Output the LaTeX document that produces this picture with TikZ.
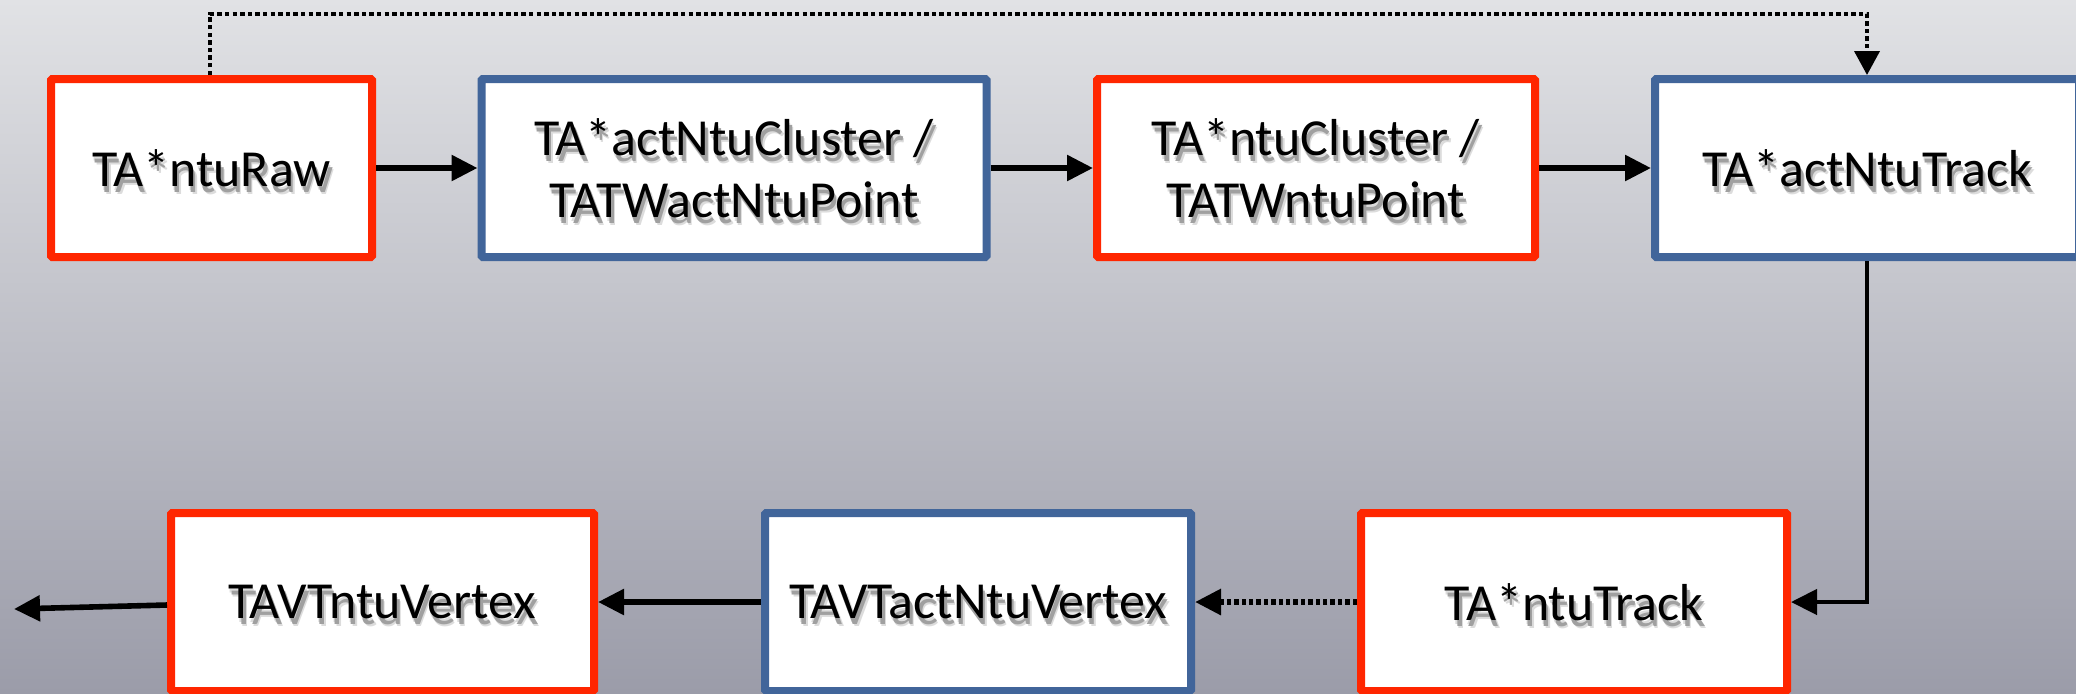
\documentclass[tikz,border=0pt]{standalone}
\usepackage{fontspec}
\setmainfont{Carlito}
\usetikzlibrary{arrows.meta}

\definecolor{bgtop}{HTML}{E1E2E5}
\definecolor{bgbottom}{HTML}{9B9CA9}
\definecolor{dataRed}{HTML}{FF2600}
\definecolor{actBlue}{HTML}{41659A}
\definecolor{shadeLight}{HTML}{DCDCDC}
\definecolor{shadeDark}{HTML}{A0A0A0}

\tikzset{
  basebox/.style={draw, line width=4pt, fill=white, inner sep=0pt,
    minimum height=89pt, rounded corners=0.6pt},
  databox/.style={basebox, draw=dataRed},
  actbox/.style={basebox, draw=actBlue},
  boxtext/.style={align=center, inner sep=0pt,
    font=\fontsize{26pt}{31pt}\selectfont},
  flow/.style={line width=2.8pt, -{Triangle[length=13pt,width=12.5pt]}},
  flowthin/.style={line width=2.2pt, -{Triangle[length=13pt,width=12.5pt]}},
  dotflow/.style={line width=1.9pt, dash pattern=on 2.2pt off 1.6pt,
    -{Triangle[length=12pt,width=12.5pt]}},
  dotflowthick/.style={line width=3pt, dash pattern=on 2.2pt off 1.5pt,
    -{Triangle[length=13pt,width=12.5pt]}},
}

% box with a soft drop shadow under its label
\newcommand\flowbox[5]{%
  \node[#3, minimum width=#4] (#1) at (#2) {};
  \foreach \dx/\dy/\c [count=\k] in {
      1/4/shadeLight, 4/8/shadeLight, 2.5/6/shadeDark}
    \node[boxtext, text=\c] (#1-shadow\k) at ([shift={(\dx,\dy)}]#1.center) {#5};
  \node[boxtext] (#1-label) at (#1.center) {#5};
}

\begin{document}
\begin{tikzpicture}[x=0.5pt, y=-0.5pt]
  \useasboundingbox (0,0) rectangle (2076,693);
  \clip (0,0) rectangle (2076,693);
  \shade[top color=bgtop, bottom color=bgbottom] (0,0) rectangle (2076,693);

  % reconstruction chain, upper row
  \flowbox{raw}{211.5,168}{databox}{160.5pt}{TA*ntuRaw}
  \flowbox{actCl}{734,168}{actbox}{252.5pt}{TA*actNtuCluster /\\TATWactNtuPoint}
  \flowbox{ntuCl}{1316,168}{databox}{219pt}{TA*ntuCluster /\\TATWntuPoint}
  \flowbox{actTr}{1867,168}{actbox}{212pt}{TA*actNtuTrack}

  % lower row
  \flowbox{ntuTr}{1574,602}{databox}{213pt}{TA*ntuTrack}
  \flowbox{actVx}{978,602}{actbox}{213pt}{TAVTactNtuVertex}
  \flowbox{ntuVx}{382.5,602}{databox}{211.5pt}{TAVTntuVertex}

  \coordinate (loopTop) at (1000,14);
  \coordinate (outEnd) at (14,609);

  \draw[flow] (raw) -- (actCl);
  \draw[flow] (actCl) -- (ntuCl);
  \draw[flow] (ntuCl) -- (actTr);
  \draw[dotflow] ([xshift=-0.75pt]raw.north) |- (loopTop) -| (actTr.north);
  \draw[flowthin] (actTr.south) |- (ntuTr.east);
  \draw[dotflowthick] (ntuTr) -- (actVx);
  \draw[flow] (actVx) -- (ntuVx);
  \draw[flow] ([yshift=-1.5pt]ntuVx.west) -- (outEnd);
\end{tikzpicture}
\end{document}
